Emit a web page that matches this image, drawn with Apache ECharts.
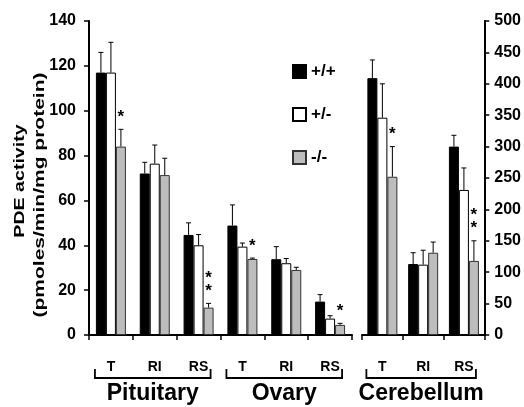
<!DOCTYPE html>
<html>
<head>
<meta charset="utf-8">
<script src="https://cdn.jsdelivr.net/npm/echarts@6/dist/echarts.min.js"></script>
<style>
  html, body { margin: 0; padding: 0; background: #fff; }
  #chart { width: 524px; height: 407px; }
</style>
</head>
<body>
<div id="chart"></div>
<script>
// categories
var catsLeft = ['T', 'RI', 'RS', 'T', 'RI', 'RS'];   // Pituitary, Ovary
var catsRight = ['T', 'RI', 'RS'];                  // Cerebellum
var seriesNames = ['+/+', '+/-', '-/-'];

// Pituitary + Ovary (left axis)
var wtLeft = [117, 72, 44.6, 48.8, 33.8, 14.9];
var wtLeftErr = [126, 77, 50, 58, 39.4, 18];
var hetLeft = [117, 76.4, 40, 39.4, 32, 7.3];
var hetLeftErr = [130.5, 84.7, 44.8, 41, 34.1, 8.6];
var koLeft = [84, 71.3, 12.2, 33.9, 29, 4.5];
var koLeftErr = [91.7, 78.8, 14.1, 34.3, 30.2, 5.2];
var koLeftStars = [1, 0, 2, 1, 0, 1];

// Cerebellum (right axis)
var wtRight = [409, 113, 300];
var wtRightErr = [438, 131, 318];
var hetRight = [346, 112, 231];
var hetRightErr = [400, 135, 266];
var koRight = [252, 131, 118];
var koRightErr = [300, 148, 150];
var koRightStars = [1, 0, 2];

var groupNames = ['Pituitary', 'Ovary', 'Cerebellum'];
var groupSpans = [[0, 0, 2], [0, 3, 5], [1, 0, 2]];  // x axis index, first cat, last cat

var colors = ['#000000', '#ffffff', '#bdbdbd'];
var BAR_W = 10;
var FONT = "'Liberation Sans', Arial, sans-serif";
var NARROW = "'Liberation Sans Narrow', 'Liberation Sans', Arial, sans-serif";

var chart = echarts.init(document.getElementById('chart'));

function barSeries(name, idx, values, axis) {
    return {
        name: name,
        type: 'bar',
        xAxisIndex: axis,
        yAxisIndex: axis,
        data: values,
        barWidth: BAR_W,
        barGap: '0%',
        itemStyle: { color: colors[idx], borderColor: idx == 2 ? '#333' : '#000', borderWidth: 1 },
        emphasis: { disabled: true }
    };
}

function errSeries(idx, values, errs, stars, axis) {
    var d = [];
    for (var i = 0; i < values.length; i++) {
        d.push([i, values[i], errs[i], stars ? stars[i] : 0]);
    }
    var offset = (idx - 1) * BAR_W;
    return {
        type: 'custom',
        xAxisIndex: axis,
        yAxisIndex: axis,
        silent: true,
        z: 5,
        encode: { x: 0, y: [1, 2] },
        data: d,
        renderItem: function (params, api) {
            var c = api.value(0);
            var top = api.coord([c, api.value(1)]);
            var err = api.coord([c, api.value(2)]);
            var cx = top[0] + offset;
            var ls = { stroke: '#000', lineWidth: 1 };
            var kids = [
                { type: 'line', shape: { x1: cx, y1: top[1], x2: cx, y2: err[1] }, style: ls },
                { type: 'line', shape: { x1: cx - 2.5, y1: err[1], x2: cx + 2.5, y2: err[1] }, style: ls }
            ];
            var n = api.value(3);
            for (var k = 0; k < n; k++) {
                kids.push({
                    type: 'text',
                    style: {
                        text: '*', x: cx, y: err[1] - 12 - k * 13,
                        align: 'center', verticalAlign: 'middle',
                        font: 'bold 17px ' + FONT, fill: '#000'
                    }
                });
            }
            return { type: 'group', children: kids };
        }
    };
}

var axisLine = { show: true, lineStyle: { color: '#000', width: 2 } };
var axisTick = { show: true, length: 5, lineStyle: { color: '#000', width: 1.5 } };

var option = {
    animation: false,
    legend: {
        data: seriesNames,
        orient: 'vertical',
        left: 287,
        top: 58,
        itemWidth: 13,
        itemHeight: 13,
        itemGap: 26,
        icon: 'rect',
        textStyle: { fontFamily: FONT, fontWeight: 'bold', fontSize: 17, color: '#000' },
        selectedMode: false
    },
    grid: [
        { left: 89, top: 21, width: 263, height: 314 },
        { left: 362, top: 21, width: 126, height: 314 }
    ],
    xAxis: [
        {
            type: 'category', gridIndex: 0, data: catsLeft,
            axisLine: axisLine, axisTick: axisTick,
            axisLabel: { margin: 25, fontFamily: FONT, fontWeight: 'bold', fontSize: 14, color: '#000' }
        },
        {
            type: 'category', gridIndex: 1, data: catsRight,
            axisLine: axisLine, axisTick: axisTick,
            axisLabel: { margin: 25, fontFamily: FONT, fontWeight: 'bold', fontSize: 14, color: '#000' }
        }
    ],
    yAxis: [
        {
            type: 'value', gridIndex: 0, min: 0, max: 140, interval: 20,
            axisLine: axisLine, axisTick: axisTick, splitLine: { show: false },
            axisLabel: { margin: 13, fontFamily: NARROW, fontWeight: 'bold', fontSize: 16, color: '#000' }
        },
        {
            type: 'value', gridIndex: 1, position: 'right', min: 0, max: 500, interval: 50,
            axisLine: axisLine, axisTick: axisTick, splitLine: { show: false },
            axisLabel: { margin: 10, fontFamily: NARROW, fontWeight: 'bold', fontSize: 16, color: '#000' }
        }
    ],
    series: [
        barSeries(seriesNames[0], 0, wtLeft, 0),
        barSeries(seriesNames[1], 1, hetLeft, 0),
        barSeries(seriesNames[2], 2, koLeft, 0),
        barSeries(seriesNames[0], 0, wtRight, 1),
        barSeries(seriesNames[1], 1, hetRight, 1),
        barSeries(seriesNames[2], 2, koRight, 1),
        errSeries(0, wtLeft, wtLeftErr, null, 0),
        errSeries(1, hetLeft, hetLeftErr, null, 0),
        errSeries(2, koLeft, koLeftErr, koLeftStars, 0),
        errSeries(0, wtRight, wtRightErr, null, 1),
        errSeries(1, hetRight, hetRightErr, null, 1),
        errSeries(2, koRight, koRightErr, koRightStars, 1)
    ]
};

option && chart.setOption(option, true);

// brackets, group names and the y axis title
var gfx = [];
var brY = 378;
for (var g = 0; g < groupNames.length; g++) {
    var sp = groupSpans[g];
    var x1 = chart.convertToPixel({ xAxisIndex: sp[0] }, sp[1]) - 16;
    var x2 = chart.convertToPixel({ xAxisIndex: sp[0] }, sp[2]) + 12;
    gfx.push({
        type: 'polyline',
        shape: { points: [[x1, brY - 9], [x1, brY], [x2, brY], [x2, brY - 9]] },
        style: { stroke: '#000', lineWidth: 1.8, fill: null }
    });
    gfx.push({
        type: 'text',
        x: (x1 + x2) / 2, y: 394,
        style: { text: groupNames[g], align: 'center', verticalAlign: 'middle', font: 'bold 23px ' + FONT, fill: '#000' }
    });
}
gfx.push({
    type: 'text', x: 20, y: 181, rotation: Math.PI / 2, scaleX: 1.4,
    style: { text: 'PDE activity', align: 'center', verticalAlign: 'middle', font: 'bold 14px ' + FONT, fill: '#000' }
});
gfx.push({
    type: 'text', x: 40, y: 195, rotation: Math.PI / 2, scaleX: 1.5,
    style: { text: '(pmoles/min/mg protein)', align: 'center', verticalAlign: 'middle', font: 'bold 14px ' + FONT, fill: '#000' }
});
chart.setOption({ graphic: gfx });
</script>
</body>
</html>
